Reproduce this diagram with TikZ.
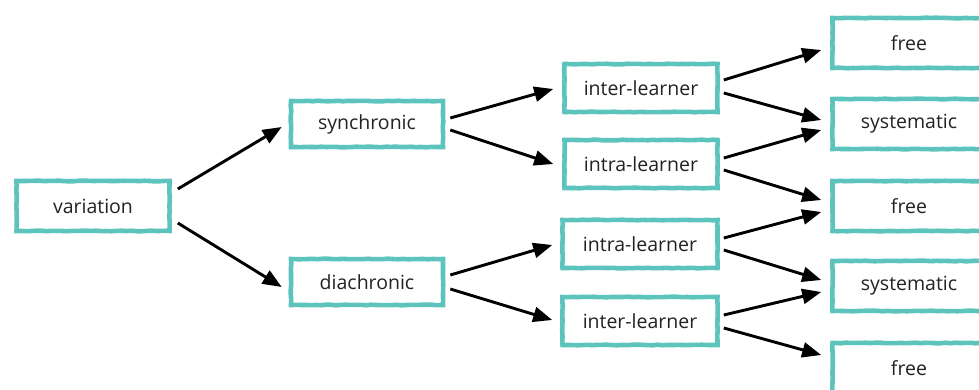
\documentclass[tikz,border=0pt]{standalone}
\usepackage{fontspec}
\setmainfont{Open Sans}
\usetikzlibrary{arrows.meta,decorations.pathmorphing}
\definecolor{teal1}{HTML}{5CC4BC}
\definecolor{txt}{HTML}{222222}
\begin{document}
\begin{tikzpicture}[x=1pt,y=-1pt,
  box/.style={draw=teal1,line width=4.6pt,rectangle,minimum width=153pt,minimum height=48pt,
    inner sep=0pt,font=\fontsize{19.5}{22}\selectfont,text=txt,
    decorate,decoration={random steps,segment length=5pt,amplitude=0.3pt}},
  arr/.style={line width=2.9pt,-{Triangle[length=19pt,width=15pt]}}]
\pgfmathsetseed{7}
\useasboundingbox (0,0) rectangle (979,390);
\node[box,minimum height=50pt] (var) at (93,206) {variation};
\node[box,minimum width=152pt,minimum height=46pt] (syn) at (367,124) {synchronic};
\node[box,minimum width=152pt,minimum height=46pt] (dia) at (367,282) {diachronic};
\node[box] (inA) at (641,88) {inter-learner};
\node[box] (itA) at (641,164) {intra-learner};
\node[box,minimum width=155pt] (itB) at (640,244) {intra-learner};
\node[box,minimum width=155pt] (inB) at (640,321) {inter-learner};
\node[box,minimum height=50pt] (f1) at (909,43) {free};
\node[box,minimum height=50pt] (s1) at (909,124) {systematic};
\node[box,minimum height=50pt] (f2) at (909,206) {free};
\node[box,minimum height=50pt] (s2) at (909,286) {systematic};
\node[box,minimum height=50pt] (f3) at (909,368) {free};
% arrows
\draw[arr] ([xshift=6pt,yshift=17pt]var.east) -- ([xshift=-7pt,yshift=-3pt]syn.west);
\draw[arr] ([xshift=6pt,yshift=-17pt]var.east) -- ([xshift=-7pt,yshift=-5pt]dia.west);
\draw[arr] ([xshift=5pt,yshift=6pt]syn.east) -- ([xshift=-9pt,yshift=-1pt]inA.west);
\draw[arr] ([xshift=5pt,yshift=-6pt]syn.east) -- ([xshift=-9pt,yshift=0pt]itA.west);
\draw[arr] ([xshift=5pt,yshift=7pt]dia.east) -- ([xshift=-8pt,yshift=-1pt]itB.west);
\draw[arr] ([xshift=5pt,yshift=-7pt]dia.east) -- ([xshift=-8pt,yshift=1pt]inB.west);
\draw[arr] ([xshift=4pt,yshift=8pt]inA.east) -- ([xshift=-9pt,yshift=-7pt]f1.west);
\draw[arr] ([xshift=4pt,yshift=-5pt]inA.east) -- ([xshift=-9pt,yshift=4pt]s1.west);
\draw[arr] ([xshift=4pt,yshift=6pt]itA.east) -- ([xshift=-9pt,yshift=-6pt]s1.west);
\draw[arr] ([xshift=4pt,yshift=-6pt]itA.east) -- ([xshift=-9pt,yshift=6pt]f2.west);
\draw[arr] ([xshift=4pt,yshift=6pt]itB.east) -- ([xshift=-9pt,yshift=-6pt]f2.west);
\draw[arr] ([xshift=4pt,yshift=-6pt]itB.east) -- ([xshift=-9pt,yshift=6pt]s2.west);
\draw[arr] ([xshift=4pt,yshift=6pt]inB.east) -- ([xshift=-9pt,yshift=-6pt]s2.west);
\draw[arr] ([xshift=4pt,yshift=-7pt]inB.east) -- ([xshift=-9pt,yshift=13pt]f3.west);
\end{tikzpicture}
\end{document}
